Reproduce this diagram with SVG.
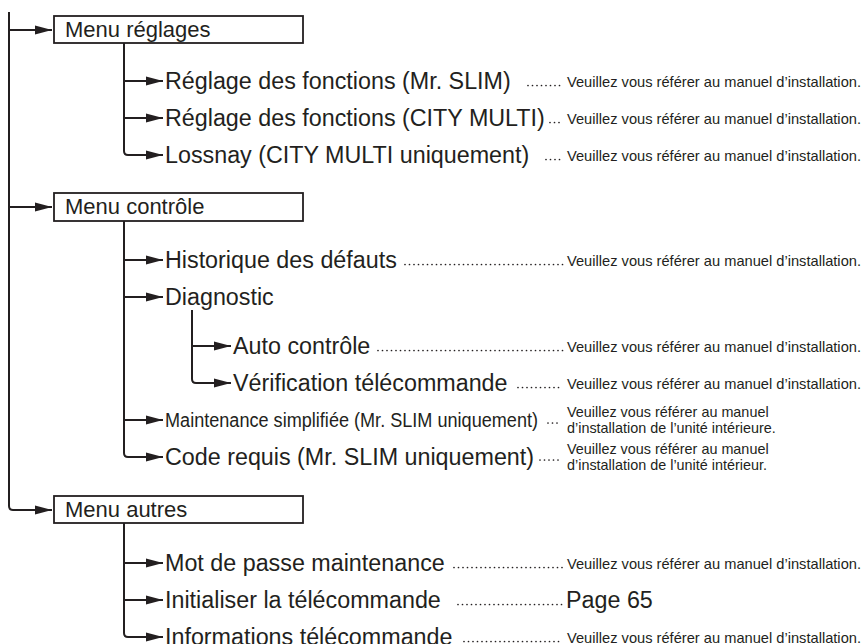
<svg xmlns="http://www.w3.org/2000/svg" width="865" height="644" viewBox="0 0 865 644">
<defs>
<marker id="ah" markerUnits="userSpaceOnUse" markerWidth="17" markerHeight="10" refX="17" refY="5" orient="auto">
<path d="M0,0.5 L17,5 L0,9.5 z" fill="#231f20"/>
</marker>
<style>
.ln{fill:none;stroke:#231f20;stroke-width:2}
.ar{fill:none;stroke:#231f20;stroke-width:2;marker-end:url(#ah)}
.dt{fill:none;stroke:#231f20;stroke-width:1.7;stroke-linecap:round;stroke-dasharray:0 4.5}
.box{fill:#fff;stroke:#231f20;stroke-width:1.8}
text{font-family:"Liberation Sans",Arial,Helvetica,sans-serif;fill:#231f20}
.mt{font-size:22px}
.it{font-size:23.3px}
.sm{font-size:14.6px}
.s2{font-size:14.4px}
</style>
</defs>
<rect width="865" height="644" fill="#fff"/>

<g id="connectors">
<path class="ln" d="M9,12 V506 Q9,510 13,510 H36"/>
<path class="ar" d="M9,30 H52"/>
<path class="ar" d="M9,207 H52"/>
<path class="ar" d="M30,510 H52"/>
<path class="ln" d="M124,43 V151 Q124,155 128,155 H140"/>
<path class="ar" d="M124,81 H163"/>
<path class="ar" d="M124,118 H163"/>
<path class="ar" d="M135,155 H163"/>
<path class="ln" d="M124,221 V453 Q124,457 128,457 H140"/>
<path class="ar" d="M124,260 H163"/>
<path class="ar" d="M124,297 H163"/>
<path class="ar" d="M124,420 H163"/>
<path class="ar" d="M135,457 H163"/>
<path class="ln" d="M192,310 V379 Q192,383 196,383 H208"/>
<path class="ar" d="M192,346 H231"/>
<path class="ar" d="M203,383 H231"/>
<path class="ln" d="M124,523 V633 Q124,637 128,637 H140"/>
<path class="ar" d="M124,563 H163"/>
<path class="ar" d="M124,600 H163"/>
<path class="ar" d="M135,637 H163"/>
</g>

<g id="leaders">
<path class="dt" d="M528,85.5 H563"/>
<path class="dt" d="M550,122.5 H563"/>
<path class="dt" d="M546,159.5 H563"/>
<path class="dt" d="M405,264.5 H563"/>
<path class="dt" d="M378,350.5 H563"/>
<path class="dt" d="M518,387.5 H563"/>
<path class="dt" d="M548,423 H561"/>
<path class="dt" d="M540,460 H561"/>
<path class="dt" d="M454,567.5 H563"/>
<path class="dt" d="M458,604.5 H563"/>
<path class="dt" d="M464,641.5 H563"/>
</g>

<g id="menu-reglages">
<rect class="box" x="54" y="16" width="249" height="27"/>
<text class="mt" x="65" y="37">Menu réglages</text>
</g>
<g id="reglage-slim">
<text class="it" x="165" y="89">Réglage des fonctions (Mr. SLIM)</text>
<text class="sm" x="567" y="86.5" textLength="294" lengthAdjust="spacingAndGlyphs">Veuillez vous référer au manuel d’installation.</text>
</g>
<g id="reglage-city">
<text class="it" x="165" y="126">Réglage des fonctions (CITY MULTI)</text>
<text class="sm" x="567" y="123.5" textLength="294" lengthAdjust="spacingAndGlyphs">Veuillez vous référer au manuel d’installation.</text>
</g>
<g id="lossnay">
<text class="it" x="165" y="163">Lossnay (CITY MULTI uniquement)</text>
<text class="sm" x="567" y="160.5" textLength="294" lengthAdjust="spacingAndGlyphs">Veuillez vous référer au manuel d’installation.</text>
</g>

<g id="menu-controle">
<rect class="box" x="54" y="193" width="249" height="28"/>
<text class="mt" x="65" y="214">Menu contrôle</text>
</g>
<g id="historique">
<text class="it" x="165" y="268">Historique des défauts</text>
<text class="sm" x="567" y="265.5" textLength="294" lengthAdjust="spacingAndGlyphs">Veuillez vous référer au manuel d’installation.</text>
</g>
<g id="diagnostic">
<text class="it" x="165" y="305">Diagnostic</text>
</g>
<g id="auto-controle">
<text class="it" x="233" y="354">Auto contrôle</text>
<text class="sm" x="567" y="351.5" textLength="294" lengthAdjust="spacingAndGlyphs">Veuillez vous référer au manuel d’installation.</text>
</g>
<g id="verification">
<text class="it" x="233" y="391">Vérification télécommande</text>
<text class="sm" x="567" y="388.5" textLength="294" lengthAdjust="spacingAndGlyphs">Veuillez vous référer au manuel d’installation.</text>
</g>
<g id="maintenance">
<text x="165" y="427" font-size="20" textLength="373" lengthAdjust="spacingAndGlyphs">Maintenance simplifiée (Mr. SLIM uniquement)</text>
<text class="s2" x="567" y="416.5">Veuillez vous référer au manuel</text>
<text class="s2" x="567" y="433">d’installation de l’unité intérieure.</text>
</g>
<g id="code-requis">
<text class="it" x="165" y="465">Code requis (Mr. SLIM uniquement)</text>
<text class="s2" x="567" y="453.5">Veuillez vous référer au manuel</text>
<text class="s2" x="567" y="470">d’installation de l’unité intérieur.</text>
</g>

<g id="menu-autres">
<rect class="box" x="54" y="496" width="249" height="27"/>
<text class="mt" x="65" y="517">Menu autres</text>
</g>
<g id="mot-de-passe">
<text class="it" x="165" y="571">Mot de passe maintenance</text>
<text class="sm" x="567" y="568.5" textLength="294" lengthAdjust="spacingAndGlyphs">Veuillez vous référer au manuel d’installation.</text>
</g>
<g id="initialiser">
<text class="it" x="165" y="608">Initialiser la télécommande</text>
<text class="it" x="566" y="608">Page 65</text>
</g>
<g id="informations">
<text class="it" x="165" y="645">Informations télécommande</text>
<text class="sm" x="567" y="642.5" textLength="294" lengthAdjust="spacingAndGlyphs">Veuillez vous référer au manuel d’installation.</text>
</g>
</svg>
